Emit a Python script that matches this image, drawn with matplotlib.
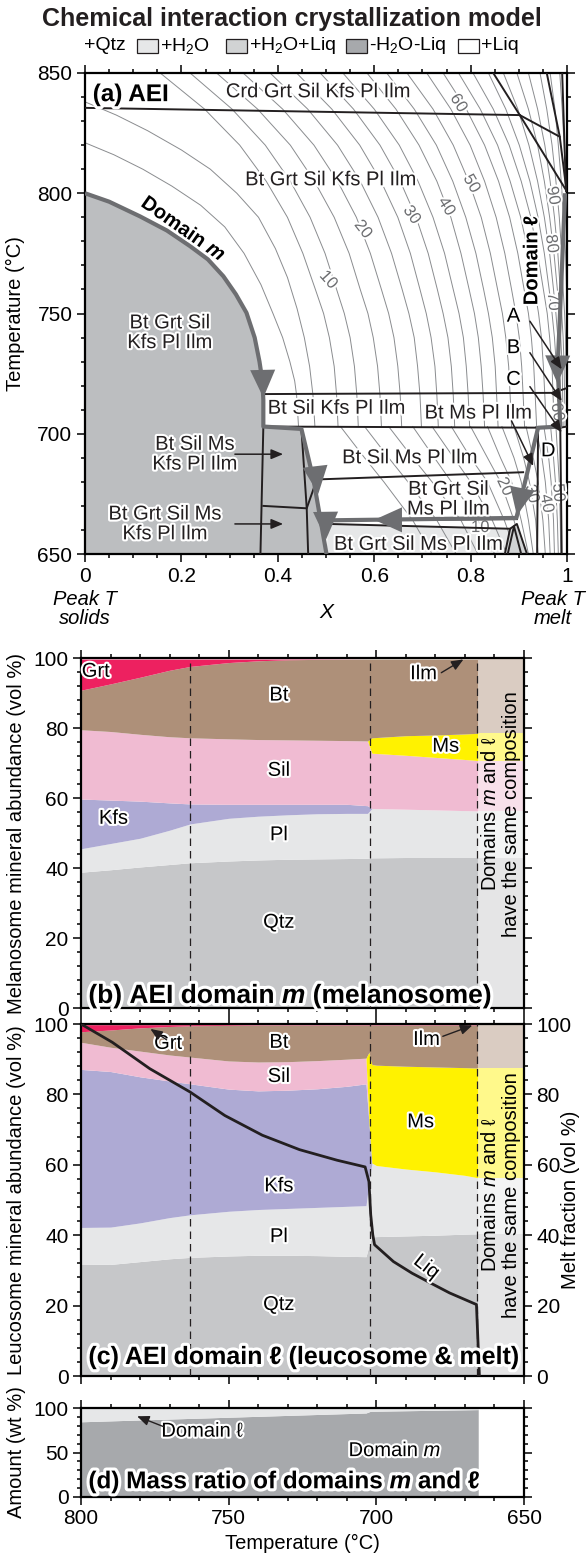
import matplotlib
matplotlib.use('Agg')
import matplotlib.pyplot as plt
import matplotlib.patheffects as pe
from matplotlib.patches import Polygon, Rectangle

plt.rcParams['font.family'] = ['Liberation Sans', 'DejaVu Sans']
plt.rcParams['mathtext.fontset'] = 'custom'
plt.rcParams['mathtext.rm'] = 'Liberation Sans'
plt.rcParams['mathtext.it'] = 'Liberation Sans:italic'
plt.rcParams['mathtext.bf'] = 'Liberation Sans:bold'
plt.rcParams['mathtext.bfit'] = 'Liberation Sans:bold:italic'

W, H = 587, 1555
halo = [pe.withStroke(linewidth=3, foreground='white')]
halo_big = [pe.withStroke(linewidth=4.5, foreground='white')]

GRAY_DARK = '#6d6e71'
GRAY_FILL = '#bcbec0'
GRAY_LIGHT = '#e6e7e8'
GRAY_MED = '#d1d3d4'
ISO = '#8a8c8f'

# ---------------- panel (a) data ----------------
domain_m_X = [0, 0.05, 0.114, 0.17, 0.218, 0.255, 0.287, 0.313, 0.335, 0.352, 0.362, 0.368, 0.370,
              0.370, 0.449, 0.474, 0.501]
domain_m_T = [800, 796.5, 790.4, 784.5, 778, 772.5, 765.5, 758, 750.3, 740, 730, 722, 714,
              703, 702, 681, 650]
domain_l_X = [0.996, 0.985, 0.981, 0.986, 0.94, 0.895, 0.505]
domain_l_T = [800, 747.5, 730, 703, 702.5, 665, 664]

# melt isopleths, upper field (rows of temperature)
iso_T_up = [850, 835, 820, 805, 790, 775, 760, 750, 740, 728, 716, 703]
iso_X_up = [
    [0.156, 0.248, 0.321, 0.376, 0.420, 0.452, 0.478, 0.495, 0.507, 0.517, 0.522, 0.525],
    [0.218, 0.305, 0.374, 0.426, 0.467, 0.498, 0.522, 0.538, 0.550, 0.559, 0.564, 0.567],
    [0.273, 0.358, 0.426, 0.476, 0.517, 0.548, 0.571, 0.587, 0.598, 0.607, 0.612, 0.615],
    [0.328, 0.410, 0.475, 0.524, 0.563, 0.592, 0.615, 0.630, 0.641, 0.649, 0.654, 0.657],
    [0.384, 0.462, 0.524, 0.571, 0.608, 0.636, 0.658, 0.672, 0.683, 0.690, 0.695, 0.698],
    [0.439, 0.512, 0.570, 0.614, 0.649, 0.675, 0.695, 0.708, 0.718, 0.726, 0.730, 0.733],
    [0.488, 0.557, 0.612, 0.654, 0.687, 0.712, 0.731, 0.743, 0.753, 0.760, 0.764, 0.767],
    [0.535, 0.600, 0.652, 0.691, 0.722, 0.746, 0.764, 0.776, 0.785, 0.791, 0.795, 0.798],
    [0.585, 0.645, 0.693, 0.730, 0.759, 0.780, 0.797, 0.808, 0.816, 0.822, 0.826, 0.829],
    [0.626, 0.683, 0.729, 0.763, 0.790, 0.811, 0.827, 0.837, 0.845, 0.851, 0.854, 0.857],
    [0.668, 0.722, 0.764, 0.796, 0.822, 0.841, 0.856, 0.866, 0.873, 0.879, 0.882, 0.885],
    [0.709, 0.759, 0.799, 0.829, 0.853, 0.871, 0.885, 0.894, 0.901, 0.906, 0.909, 0.912],
    [0.743, 0.791, 0.829, 0.858, 0.881, 0.898, 0.911, 0.920, 0.926, 0.931, 0.934, 0.937],
    [0.775, 0.820, 0.856, 0.882, 0.904, 0.920, 0.933, 0.941, 0.947, 0.951, 0.954, 0.957],
    [0.805, 0.847, 0.880, 0.905, 0.925, 0.939, 0.951, 0.959, 0.964, 0.969, 0.971, 0.974],
    [0.837, 0.873, 0.901, 0.923, 0.940, 0.953, 0.963, 0.969, 0.974, 0.978, 0.980, 0.982],
    [0.868, 0.898, 0.921, 0.939, 0.953, 0.964, 0.972, 0.977, 0.981, 0.984, 0.986, 0.988],
    [0.896, 0.920, 0.939, 0.953, 0.964, 0.973, 0.980, 0.984, 0.987, 0.990, 0.991, 0.992],
    [0.920, 0.939, 0.954, 0.965, 0.974, 0.981, 0.986, 0.989, 0.992, 0.994, 0.995, 0.996],
    [0.944, 0.958, 0.969, 0.977, 0.984, 0.989, 0.992, 0.995, 0.997, 0.998, 0.999, 1.000],
    [0.965, 0.975, 0.982, 0.988, 0.993, 0.997, 0.999, 1.010, 1.010, 1.010, 1.010, 1.010],
    [0.985, 0.990, 0.994, 0.997, 1.000, 1.010, 1.010, 1.010, 1.010, 1.010, 1.010, 1.010],
]
iso_left = [
    ([0, 0.06, 0.12, 0.18, 0.24, 0.29, 0.33, 0.365, 0.39, 0.41, 0.425, 0.435, 0.439, 0.443],
     [821, 816, 810, 803, 795, 786, 775, 762, 750, 740, 730, 722, 716, 703]),
    ([0, 0.065, 0.13, 0.2, 0.26, 0.315, 0.36, 0.395, 0.42, 0.44, 0.455, 0.466, 0.473, 0.477],
     [838, 832.5, 826, 818, 810, 800, 790, 777, 765, 752, 740, 728, 716, 703]),
]
# melt isopleths, lower field
iso_T_low = [703, 690, 680, 664, 650]
iso_X_low = [
    [0.53, 0.58, 0.62, 0.68, 0.72],
    [0.58, 0.63, 0.67, 0.73, 0.77],
    [0.63, 0.68, 0.72, 0.78, 0.815],
    [0.68, 0.725, 0.76, 0.815, 0.85],
    [0.72, 0.765, 0.80, 0.845, 0.875],
    [0.76, 0.80, 0.835, 0.87, 0.895],
    [0.80, 0.835, 0.862, 0.89, 0.91],
    [0.835, 0.862, 0.885, 0.905, 0.92],
    [0.865, 0.89, 0.905, 0.92, 0.93],
    [0.89, 0.91, 0.922, 0.935, 0.94],
    [0.915, 0.93, 0.94, 0.95, 0.955],
    [0.935, 0.948, 0.955, 0.962, 0.965],
    [0.952, 0.962, 0.967, 0.972, 0.974],
    [0.966, 0.972, 0.976, 0.98, 0.982],
    [0.977, 0.981, 0.984, 0.986, 0.987],
]
iso_labels = ['10', '20', '30', '40', '50', '60', '90', '80', '70', '60', '20', '30', '40', '50', '10']
iso_lab_X = [0.505, 0.577, 0.678, 0.750, 0.802, 0.775, 0.971, 0.968, 0.971, 0.980, 0.871, 0.927, 0.958, 0.982, 0.820]
iso_lab_T = [764, 785, 791, 794.5, 804, 837.5, 799, 779, 755, 709, 678, 675, 671, 675.5, 661]
iso_lab_rot = [-48, -52, -55, -58, -60, -58, -80, -82, -85, -80, -65, -75, -80, -85, 0]

# phase boundaries (thin black)
bounds = [
    ([0, 0.902], [835.5, 832.5]),
    ([0.847, 0.902, 0.999], [850, 832.5, 801]),
    ([0.902, 0.985, 0.999], [832.5, 823.5, 801]),
    ([0.958, 0.985], [850, 823.5]),
    ([0.99, 0.998], [850, 801]),
    ([0.37, 0.97, 0.985, 1.0], [716.5, 717, 718, 719]),
    ([0.37, 0.985, 1.0], [703, 702.5, 703]),
    ([0.481, 0.909], [681, 684]),
    ([0.501, 0.896], [664, 664.5]),
    ([0.505, 0.882], [662.5, 660.5]),
    ([0.37, 0.364], [703, 650]),
    ([0.449, 0.46, 0.463], [702, 669, 650]),
    ([0.37, 0.46, 0.481], [670, 669, 681]),
    ([0.94, 0.938], [702.5, 650]),
    ([0.986, 0.989], [703, 650]),
    ([0.871, 0.882, 0.896, 0.917], [650, 660.5, 662.5, 650]),
    ([0.877, 0.89, 0.905], [650, 661.5, 650]),
]
strip_X = [0.501, 0.505, 0.882, 0.871]
strip_T = [650, 662.5, 660.5, 650]
hatch_X = [0.871, 0.882, 0.896, 0.917]
hatch_T = [650, 660.5, 662.5, 650]

# arrowheads on the crystallization paths: (tail, tip)
path_arrows = [
    ((0.368, 732), (0.370, 715)),
    ((0.477, 687), (0.484, 675)),
    ((0.499, 669), (0.500, 656)),
    ((0.66, 664.2), (0.60, 664.2)),
    ((0.905, 675), (0.896, 666)),
    ((0.981, 737), (0.980, 721)),
]

assemblages = [
    ('Crd Grt Sil Kfs Pl Ilm', 0.484, 842.2),
    ('Bt Grt Sil Kfs Pl Ilm', 0.51, 805.6),
    ('Bt Grt Sil\nKfs Pl Ilm', 0.176, 742),
    ('Bt Sil Kfs Pl Ilm', 0.522, 710.6),
    ('Bt Ms Pl Ilm', 0.816, 708.6),
    ('Bt Sil Ms\nKfs Pl Ilm', 0.228, 691.5),
    ('Bt Sil Ms Pl Ilm', 0.674, 690),
    ('Bt Grt Sil\nMs Pl Ilm', 0.754, 672.8),
    ('Bt Grt Sil Ms\nKfs Pl Ilm', 0.166, 662.5),
    ('Bt Grt Sil Ms Pl Ilm', 0.692, 654),
]
letters = [('A', 0.889, 748.9), ('B', 0.889, 735.8), ('C', 0.889, 722.6), ('D', 0.961, 692.9)]
pointers = [
    ((0.923, 746.8), (0.989, 726.8)),
    ((0.923, 733.7), (0.989, 713.6)),
    ((0.923, 719.6), (0.989, 700.5)),
    ((0.885, 705.3), (0.93, 686.6)),
    ((0.311, 691.5), (0.411, 691.5)),
    ((0.311, 662.5), (0.411, 662.5)),
]

# ---------------- panel (b) melanosome ----------------
T_b = [800, 790, 780, 770, 763, 750, 740, 730, 720, 710, 703, 701.5, 690, 680, 670, 665.5]
b_qtz = [38.8, 39.5, 40.3, 41.0, 41.5, 42.0, 42.3, 42.5, 42.6, 42.7, 42.8, 42.9, 43.0, 43.0, 43.0, 43.0]
b_pl = [45.5, 47.0, 48.5, 50.8, 52.6, 54.2, 54.8, 55.2, 55.5, 55.6, 55.6, 57.0, 56.8, 56.6, 56.4, 56.3]
b_kfs = [59.7, 59.4, 59.1, 58.6, 58.3, 58.2, 58.2, 58.2, 58.2, 58.2, 57.8, 57.0, 56.8, 56.6, 56.4, 56.3]
b_sil = [79.5, 79.0, 78.2, 77.5, 77.2, 76.9, 76.7, 76.6, 76.5, 76.4, 76.3, 72.8, 72.2, 71.6, 71.0, 70.7]
b_ms = [79.5, 79.0, 78.2, 77.5, 77.2, 76.9, 76.7, 76.6, 76.5, 76.4, 76.3, 77.2, 77.8, 78.0, 78.3, 78.5]
b_bt = [90.8, 92.6, 94.5, 96.5, 97.6, 98.7, 99.2, 99.5, 99.6, 99.65, 99.7, 99.7, 99.7, 99.7, 99.7, 99.7]
b_grt = [99.7] * 16
b_ilm = [100.0] * 16

# ---------------- panel (c) leucosome ----------------
T_c = [800, 790, 780, 770, 763, 750, 740, 730, 720, 710, 703.5, 702.5, 701.5, 700, 690, 680, 670, 665.5]
c_qtz = [31.8, 31.7, 32.5, 33.3, 33.7, 34.1, 34.3, 34.3, 34.2, 34.0, 33.9, 37.0, 39.5, 39.6, 39.8, 40.0, 40.3, 40.4]
c_pl = [42.2, 42.3, 43.5, 45.0, 45.8, 46.8, 47.3, 47.6, 47.9, 48.2, 48.4, 55.0, 60.5, 59.8, 58.8, 58.0, 57.0, 56.3]
c_kfs = [87.1, 86.5, 85.0, 83.8, 83.0, 81.5, 81.0, 81.2, 81.6, 82.3, 83.0, 72.0, 60.5, 59.8, 58.8, 58.0, 57.0, 56.3]
c_sil = [94.8, 93.4, 92.3, 91.2, 90.6, 89.5, 89.2, 89.3, 89.6, 90.0, 90.3, 72.0, 60.5, 59.8, 58.8, 58.0, 57.0, 56.3]
c_ms = [94.8, 93.4, 92.3, 91.2, 90.6, 89.5, 89.2, 89.3, 89.6, 90.0, 90.3, 92.0, 88.5, 88.3, 88.0, 87.8, 87.6, 87.5]
c_bt = [97.8, 98.3, 98.9, 99.3, 99.5, 99.6, 99.7, 99.7, 99.7, 99.7, 99.7, 99.7, 99.7, 99.7, 99.7, 99.7, 99.7, 99.7]
c_grt = [99.8] * 18
c_ilm = [100.0] * 18

T_liq = [800, 789.4, 776.7, 763.1, 751.3, 738.6, 726, 713.3, 703.8, 702.5, 701.9, 701.2, 700.6,
         694.2, 687.9, 681.6, 675.2, 666.1, 665.1]
liq = [100, 94.8, 87.3, 80.7, 74.0, 68.4, 64.3, 61.3, 59.4, 55.2, 45.8, 40.1, 37.3,
       32.5, 29.2, 26.4, 23.6, 20.3, 0]

# final composition shared by both domains (665.5 -> 650 C)
T_same = [665.5, 650]

# ---------------- panel (d) mass ratio ----------------
T_d = [800, 703.5, 702, 665.5]
d_m = [84.5, 94.4, 96.3, 98.2]

minerals = ['Qtz', 'Pl', 'Kfs', 'Sil', 'Ms', 'Bt', 'Grt', 'Ilm']
colors = ['#c6c7c9', '#e6e7e8', '#aeaad4', '#f0bbd2', '#fff200', '#ae9079', '#ed2160', '#231f20']
dashes_T = [763, 702, 666]

TICK_FS = 15
LAB_FS = 14.5


def fr(x, y):
    return x / W, 1 - y / H


def style(ax, xmaj, xmin, ymaj, ymin):
    ax.set_xticks(xmaj)
    ax.set_xticks(xmin, minor=True)
    ax.set_yticks(ymaj)
    ax.set_yticks(ymin, minor=True)
    ax.tick_params(which='both', direction='out', top=True, right=True, labelsize=TICK_FS, width=1.1)
    ax.tick_params(which='major', length=6, pad=3)
    ax.tick_params(which='minor', length=3)
    for s in ax.spines.values():
        s.set_linewidth(1.6)


fig = plt.figure(figsize=(W / 100, H / 100), dpi=100)

fig.text(0.497, 1 - 19 / H, 'Chemical interaction crystallization model', ha='center', va='center',
         fontsize=18, fontweight='bold', color='#231f20')

# legend row
leg_y = 46
fig.text(*fr(84, leg_y), '+Qtz', ha='left', va='center', fontsize=14)
leg_items = [(137, GRAY_LIGHT, '+H$_2$O'), (226, GRAY_MED, '+H$_2$O+Liq'),
             (346, '#a7a9ac', '-H$_2$O-Liq'), (458, 'white', '+Liq')]
for x0, col, lab in leg_items:
    fig.patches.append(Rectangle(fr(x0, leg_y + 7), 21 / W, 14 / H, transform=fig.transFigure,
                                 facecolor=col, edgecolor='#231f20', lw=0.9))
    fig.text(*fr(x0 + 23, leg_y), lab, ha='left', va='center', fontsize=14)

# ================= panel (a) =================
axa = fig.add_axes([85 / W, 1 - 554 / H, 482 / W, 481 / H])
axa.set_xlim(0, 1)
axa.set_ylim(650, 850)
style(axa, [0, 0.2, 0.4, 0.6, 0.8, 1.0], [i * 0.05 for i in range(21)],
      [650, 700, 750, 800, 850], list(range(650, 851, 10)))
axa.set_xticklabels(['0', '0.2', '0.4', '0.6', '0.8', '1'])
axa.set_ylabel('Temperature (°C)', fontsize=LAB_FS)
axa.yaxis.set_label_coords(-0.125, 0.5)

for row in iso_X_up:
    axa.plot(row, iso_T_up, color=ISO, lw=0.7, zorder=1)
for xs, ts in iso_left:
    axa.plot(xs, ts, color=ISO, lw=0.7, zorder=1)
for row in iso_X_low:
    axa.plot(row, iso_T_low, color=ISO, lw=0.7, zorder=1)
for lab, x, t, r in zip(iso_labels, iso_lab_X, iso_lab_T, iso_lab_rot):
    axa.text(x, t, lab, fontsize=12, color='#6d6e71', rotation=r, ha='center', va='center',
             rotation_mode='anchor', path_effects=halo, zorder=3)

axa.add_patch(Polygon(list(zip(strip_X, strip_T)), closed=True, facecolor=GRAY_LIGHT,
                      edgecolor='none', zorder=0.5))
axa.add_patch(Polygon(list(zip(hatch_X, hatch_T)), closed=True, facecolor=GRAY_MED,
                      edgecolor='none', zorder=2))
axa.add_patch(Polygon(list(zip(domain_m_X, domain_m_T)) + [(0, 650)], closed=True,
                      facecolor=GRAY_FILL, edgecolor='none', zorder=2))

for xs, ts in bounds:
    axa.plot(xs, ts, color='#231f20', lw=1.4, zorder=4)

axa.plot(domain_m_X, domain_m_T, color=GRAY_DARK, lw=3, zorder=5, solid_capstyle='butt')
axa.plot(domain_l_X, domain_l_T, color=GRAY_DARK, lw=3, zorder=5, solid_capstyle='butt')
for tail, tip in path_arrows:
    axa.annotate('', xy=tip, xytext=tail, zorder=6,
                 arrowprops=dict(arrowstyle='-|>,head_length=1.0,head_width=0.45',
                                 color=GRAY_DARK, lw=0, mutation_scale=20, shrinkA=0, shrinkB=0))

for txt, x, t in assemblages:
    axa.text(x, t, txt, fontsize=14.5, ha='center', va='center', color='#231f20',
             linespacing=1.05, path_effects=halo, zorder=7)
for txt, x, t in letters:
    axa.text(x, t, txt, fontsize=14.5, ha='center', va='center', path_effects=halo, zorder=7)
for tail, tip in pointers:
    axa.annotate('', xy=tip, xytext=tail, zorder=8,
                 arrowprops=dict(arrowstyle='-|>,head_length=0.6,head_width=0.25',
                                 color='#231f20', lw=1.1, mutation_scale=12, shrinkA=0, shrinkB=0))

axa.text(0.204, 785, 'Domain $\\mathbfit{m}$', fontsize=14.5, fontweight='bold', rotation=-35,
         ha='center', va='center', path_effects=halo, zorder=7)
axa.text(0.927, 772, 'Domain ℓ', fontsize=14.5, fontweight='bold', rotation=90,
         ha='center', va='center', path_effects=halo, zorder=7)
axa.text(0.016, 841, '(a) AEI', fontsize=17.5, fontweight='bold', ha='left', va='center',
         path_effects=halo_big, zorder=9)

axa.text(0.0, 635, 'Peak T\nsolids', style='italic', fontsize=14.5, ha='center', va='top',
         linespacing=1.0)
axa.text(0.5, 625.5, 'X', style='italic', fontsize=15, ha='center', va='center')
axa.text(0.97, 635, 'Peak T\nmelt', style='italic', fontsize=14.5, ha='center', va='top',
         linespacing=1.0)

# ================= panels (b) and (c) =================


def stack(ax, T, tops):
    lower = [0.0] * len(T)
    for top, col in zip(tops, colors):
        ax.fill_between(T, lower, top, color=col, lw=0, zorder=1)
        lower = top
    last = [t[-1] for t in tops]
    lo = 0.0
    for v, col in zip(last, colors):
        ax.fill_between(T_same, [lo, lo], [v, v], color=col, lw=0, zorder=1)
        lo = v
    ax.fill_between(T_same, [0, 0], [100, 100], color='white', alpha=0.55, lw=0, zorder=2)
    for t in dashes_T:
        ax.axvline(t, color='#231f20', lw=0.9, ls=(0, (6, 4)), zorder=3)


axb = fig.add_axes([81 / W, 1 - 1008 / H, 443 / W, 350 / H])
axb.set_xlim(800, 650)
axb.set_ylim(0, 100)
stack(axb, T_b, [b_qtz, b_pl, b_kfs, b_sil, b_ms, b_bt, b_grt, b_ilm])
style(axb, [800, 750, 700, 650], list(range(650, 801, 10)), [0, 20, 40, 60, 80, 100], list(range(0, 101, 4)))
axb.set_xticklabels([])
axb.set_ylabel('Melanosome mineral abundance (vol %)', fontsize=LAB_FS)
axb.yaxis.set_label_coords(-0.125, 0.5)

b_labels = [('Grt', 795, 96.2), ('Bt', 733, 89.4), ('Ilm', 684, 95.5), ('Ms', 676.5, 74.8),
            ('Sil', 733, 67.9), ('Kfs', 789, 54.2), ('Pl', 733, 49.5), ('Qtz', 733, 24.5)]
for txt, t, v in b_labels:
    axb.text(t, v, txt, fontsize=14.5, ha='center', va='center', path_effects=halo, zorder=6)
axb.annotate('', xy=(670.5, 99.6), xytext=(678, 95.8), zorder=6,
             arrowprops=dict(arrowstyle='-|>,head_length=0.6,head_width=0.25', color='#231f20',
                             lw=1.0, mutation_scale=12, shrinkA=0, shrinkB=0))
axb.text(797.5, 3.4, '(b) AEI domain $\\mathbfit{m}$ (melanosome)', fontsize=19, fontweight='bold',
         ha='left', va='center', path_effects=halo_big, zorder=7)
axb.text(657.8, 55.5, 'Domains $\\mathit{m}$ and ℓ\nhave the same composition', fontsize=14.5,
         rotation=90, ha='center', va='center', linespacing=1.15, zorder=6)

axc = fig.add_axes([81 / W, 1 - 1376 / H, 443 / W, 352 / H])
axc.set_xlim(800, 650)
axc.set_ylim(0, 100)
stack(axc, T_c, [c_qtz, c_pl, c_kfs, c_sil, c_ms, c_bt, c_grt, c_ilm])
axc.plot(T_liq, liq, color='#231f20', lw=2, zorder=5)
style(axc, [800, 750, 700, 650], list(range(650, 801, 10)), [0, 20, 40, 60, 80, 100], list(range(0, 101, 4)))
axc.set_xticklabels([])
axc.tick_params(labelright=True)
axc.set_ylabel('Leucosome mineral abundance (vol %)', fontsize=LAB_FS)
axc.yaxis.set_label_coords(-0.125, 0.5)
axc.text(1.104, 0.5, 'Melt fraction (vol %)', transform=axc.transAxes, rotation=90,
         fontsize=LAB_FS, ha='center', va='center')

c_labels = [('Grt', 770.5, 94.5), ('Bt', 733, 94.8), ('Sil', 733, 85.1), ('Kfs', 733, 54.0),
            ('Pl', 733, 39.6), ('Qtz', 733, 20.3), ('Ilm', 683, 95.6), ('Ms', 685, 72.2)]
for txt, t, v in c_labels:
    axc.text(t, v, txt, fontsize=14.5, ha='center', va='center', path_effects=halo, zorder=6)
axc.text(683, 31, 'Liq', fontsize=14.5, rotation=-38, ha='center', va='center', path_effects=halo, zorder=6)
axc.annotate('', xy=(776.5, 98.6), xytext=(771, 95.5), zorder=6,
             arrowprops=dict(arrowstyle='-|>,head_length=0.6,head_width=0.25', color='#231f20',
                             lw=1.0, mutation_scale=12, shrinkA=0, shrinkB=0))
axc.annotate('', xy=(667.5, 99.6), xytext=(677.5, 96.5), zorder=6,
             arrowprops=dict(arrowstyle='-|>,head_length=0.6,head_width=0.25', color='#231f20',
                             lw=1.0, mutation_scale=12, shrinkA=0, shrinkB=0))
axc.text(797.5, 5.4, '(c) AEI domain ℓ (leucosome & melt)', fontsize=18, fontweight='bold',
         ha='left', va='center', path_effects=halo_big, zorder=7)
axc.text(657.8, 51.5, 'Domains $\\mathit{m}$ and ℓ\nhave the same composition', fontsize=14.5,
         rotation=90, ha='center', va='center', linespacing=1.15, zorder=6)

# ================= panel (d) =================
axd = fig.add_axes([81 / W, 1 - 1497 / H, 443 / W, 89 / H])
axd.set_xlim(800, 650)
axd.set_ylim(0, 100)
axd.fill_between(T_d, 0, d_m, color='#a7a9ac', lw=0)
axd.fill_between(T_d, d_m, 100, color=GRAY_LIGHT, lw=0)
style(axd, [800, 750, 700, 650], list(range(650, 801, 10)), [0, 50, 100], list(range(0, 101, 10)))
axd.set_xlabel('Temperature (°C)', fontsize=LAB_FS)
axd.set_ylabel('Amount (wt %)', fontsize=LAB_FS)
axd.yaxis.set_label_coords(-0.125, 0.5)
axd.text(759, 74, 'Domain ℓ', fontsize=14.5, ha='center', va='center', path_effects=halo, zorder=6)
axd.text(693.7, 52, 'Domain $\\mathit{m}$', fontsize=14.5, ha='center', va='center', path_effects=halo, zorder=6)
axd.annotate('', xy=(781, 90.7), xytext=(772, 79), zorder=6,
             arrowprops=dict(arrowstyle='-|>,head_length=0.6,head_width=0.25', color='#231f20',
                             lw=1.0, mutation_scale=12, shrinkA=0, shrinkB=0))
axd.text(797.5, 17, '(d) Mass ratio of domains $\\mathbfit{m}$ and ℓ', fontsize=17.5, fontweight='bold',
         ha='left', va='center', path_effects=halo_big, zorder=7)

fig.savefig('out.png', dpi=100)
